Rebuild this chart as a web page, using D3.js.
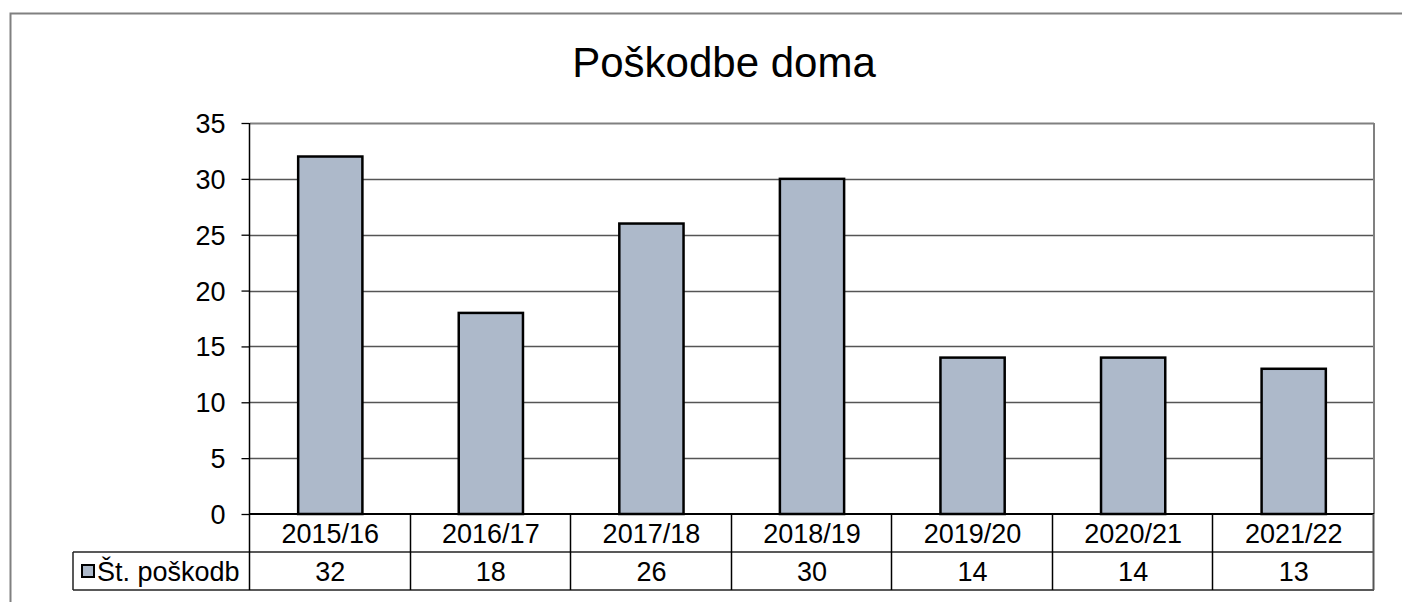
<!DOCTYPE html>
<html>
<head>
<meta charset="utf-8">
<script src="https://cdn.jsdelivr.net/npm/d3@7"></script>
<style>
  body { margin: 0; background: #fff; }
  svg text { font-family: "Liberation Sans", Arial, sans-serif; fill: #000; }
</style>
</head>
<body>
<div id="chart"></div>
<script>
// Data
const seasons = ["2015/16", "2016/17", "2017/18", "2018/19", "2019/20", "2020/21", "2021/22"];
const injuries = [32, 18, 26, 30, 14, 14, 13];
const yTicks = [0, 5, 10, 15, 20, 25, 30, 35];
const seriesName = "Št. poškodb";
const chartTitle = "Poškodbe doma";

const width = 1402, height = 602;
const plot = { left: 250, right: 1374, top: 123, bottom: 514 };
const rowH = 38;
const fs = "27px";

const svg = d3.select("#chart").append("svg")
  .attr("width", width)
  .attr("height", height);

svg.append("rect").attr("width", width).attr("height", height).attr("fill", "#fff");

// outer chart border (cut off at right / bottom like the source)
svg.append("path")
  .attr("d", `M10.5,${height + 5} L10.5,13.5 L${width + 5},13.5`)
  .attr("fill", "none")
  .attr("stroke", "#808080")
  .attr("stroke-width", 2);

// Title
svg.append("text")
  .attr("x", (10 + width) / 2 + 18)
  .attr("y", 77)
  .attr("text-anchor", "middle")
  .style("font-size", "42px")
  .text(chartTitle);

// Scales
const x = d3.scaleBand()
  .domain(seasons)
  .range([plot.left, plot.right])
  .padding(0);

const y = d3.scaleLinear()
  .domain([0, 35])
  .range([plot.bottom, plot.top]);

// Gridlines
svg.append("g")
  .selectAll("line")
  .data(yTicks.filter(d => d > 0))
  .enter()
  .append("line")
  .attr("x1", plot.left)
  .attr("x2", plot.right)
  .attr("y1", d => Math.round(y(d)) + 0.5)
  .attr("y2", d => Math.round(y(d)) + 0.5)
  .attr("stroke", d => d === 35 ? "#808080" : "#555")
  .attr("stroke-width", d => d === 35 ? 2 : 1.3);

// plot area right border
svg.append("line")
  .attr("x1", plot.right).attr("x2", plot.right)
  .attr("y1", plot.top).attr("y2", plot.bottom)
  .attr("stroke", "#808080")
  .attr("stroke-width", 2);

// Y axis
const yAxis = d3.axisLeft(y)
  .tickValues(yTicks)
  .tickSize(8)
  .tickPadding(16);

const gy = svg.append("g")
  .attr("transform", `translate(${plot.left - 0.5},0)`)
  .call(yAxis);
gy.select(".domain").remove();
gy.selectAll(".tick line").attr("stroke", "#000").attr("stroke-width", 1.3);
gy.selectAll(".tick text")
  .attr("dy", "0.35em")
  .style("font-size", fs)
  .style("font-family", "'Liberation Sans', Arial, sans-serif");

// Bars
const barW = x.bandwidth() * 0.4;
svg.append("g")
  .selectAll("rect")
  .data(seasons.map((s, i) => ({ season: s, value: injuries[i] })))
  .enter()
  .append("rect")
  .attr("x", d => x(d.season) + (x.bandwidth() - barW) / 2)
  .attr("y", d => y(d.value))
  .attr("width", barW)
  .attr("height", d => plot.bottom - y(d.value))
  .attr("fill", "#adb9ca")
  .attr("stroke", "#000")
  .attr("stroke-width", 2.5);

// Data table under the axis
const table = svg.append("g");
const r1 = plot.bottom, r2 = plot.bottom + rowH, r3 = plot.bottom + 2 * rowH;
const legendLeft = 73;

// horizontal lines
table.append("line").attr("x1", plot.left).attr("x2", plot.right).attr("y1", r1).attr("y2", r1)
  .attr("stroke", "#000").attr("stroke-width", 2);
table.append("line").attr("x1", legendLeft).attr("x2", plot.right).attr("y1", r2).attr("y2", r2)
  .attr("stroke", "#222").attr("stroke-width", 1.5);
table.append("line").attr("x1", legendLeft).attr("x2", plot.right).attr("y1", r3).attr("y2", r3)
  .attr("stroke", "#222").attr("stroke-width", 1.5);

// vertical lines
const edges = seasons.map(s => x(s)).concat([plot.right]);
table.selectAll(".vline")
  .data(edges)
  .enter()
  .append("line")
  .attr("x1", d => Math.round(d) - 0.5)
  .attr("x2", d => Math.round(d) - 0.5)
  .attr("y1", (d, i) => i === 0 ? plot.top : r1)
  .attr("y2", r3)
  .attr("stroke", (d, i) => i === edges.length - 1 ? "#555" : "#000")
  .attr("stroke-width", (d, i) => i === edges.length - 1 ? 2 : 1.5);
table.append("line")
  .attr("x1", legendLeft).attr("x2", legendLeft)
  .attr("y1", r2).attr("y2", r3)
  .attr("stroke", "#222").attr("stroke-width", 1.5);

// category labels
table.selectAll(".cat")
  .data(seasons)
  .enter()
  .append("text")
  .attr("x", d => x(d) + x.bandwidth() / 2)
  .attr("y", r1 + rowH / 2)
  .attr("dy", "0.36em")
  .attr("text-anchor", "middle")
  .style("font-size", fs)
  .text(d => d);

// values row
table.selectAll(".val")
  .data(injuries)
  .enter()
  .append("text")
  .attr("x", (d, i) => x(seasons[i]) + x.bandwidth() / 2)
  .attr("y", r2 + rowH / 2)
  .attr("dy", "0.36em")
  .attr("text-anchor", "middle")
  .style("font-size", fs)
  .text(d => d);

// legend key + series name
table.append("rect")
  .attr("x", 82).attr("y", r2 + 13)
  .attr("width", 12).attr("height", 12)
  .attr("fill", "#adb9ca")
  .attr("stroke", "#000")
  .attr("stroke-width", 2);
table.append("text")
  .attr("x", 97)
  .attr("y", r2 + rowH / 2)
  .attr("dy", "0.36em")
  .style("font-size", fs)
  .text(seriesName);
</script>
</body>
</html>
